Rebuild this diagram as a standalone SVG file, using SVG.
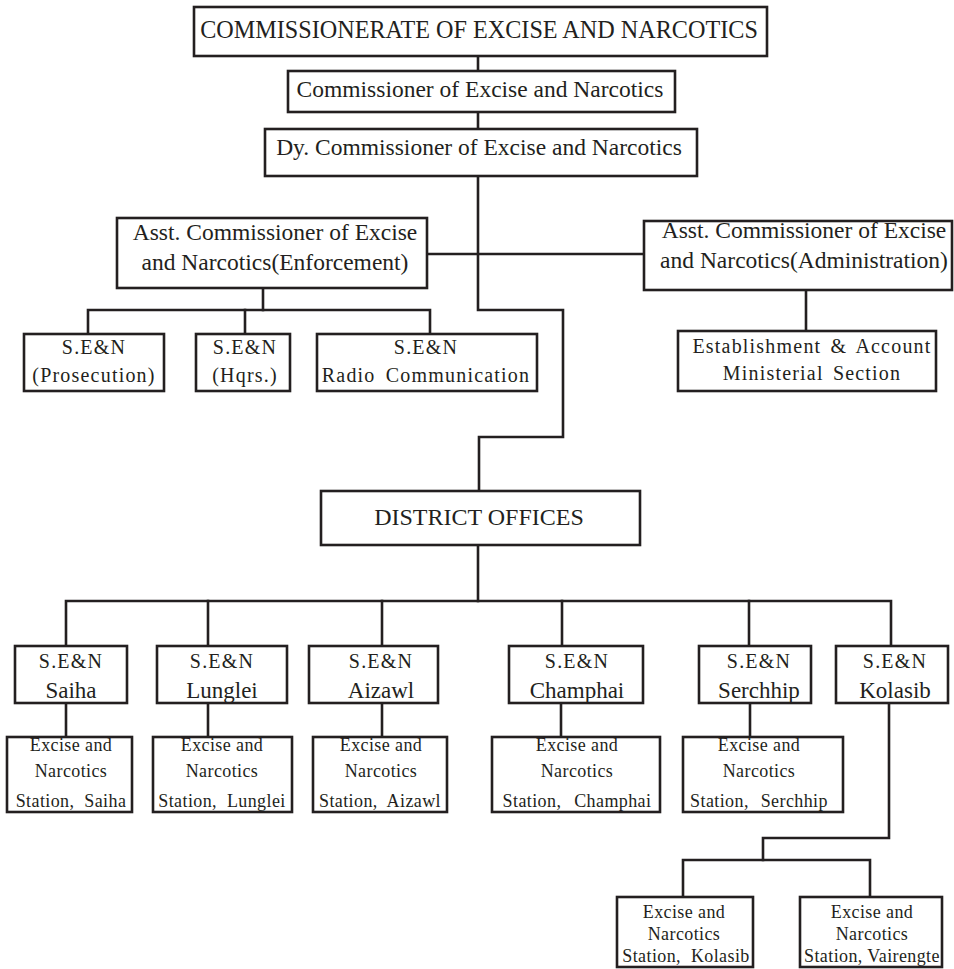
<svg xmlns="http://www.w3.org/2000/svg" width="954" height="969" viewBox="0 0 954 969" font-family="'Liberation Serif', 'Times New Roman', 'DejaVu Serif', serif">
<style>
  .box { fill: #ffffff; stroke: #231f20; stroke-width: 2.6; }
  .ln { fill: none; stroke: #231f20; stroke-width: 2.6; stroke-linejoin: miter; stroke-linecap: square; }
  text { font-family: 'Liberation Serif', 'Times New Roman', 'DejaVu Serif', serif; fill: #231f20; text-anchor: middle; }
  .t1 { font-size: 23.5px; }
  .t2 { font-size: 20px; letter-spacing: 1.2px; }
  .t3 { font-size: 23px; }
  .t4 { font-size: 18px; letter-spacing: 0.4px; }
  .st { word-spacing: 5px; }
</style>
<rect width="954" height="969" fill="#ffffff"/>

<g id="connectors">
  <path class="ln" d="M478 56 V71"/>
  <path class="ln" d="M478 112 V129"/>
  <path class="ln" d="M478 176 V310 H563 V437 H479 V491"/>
  <path class="ln" d="M427 254 H644"/>
  <path class="ln" d="M263 288 V310"/>
  <path class="ln" d="M88 334 V310 H430 V334"/>
  <path class="ln" d="M245 310 V334"/>
  <path class="ln" d="M806 290 V331"/>
  <path class="ln" d="M478 545 V601"/>
  <path class="ln" d="M66 646 V601 H891 V646"/>
  <path class="ln" d="M208 601 V646"/>
  <path class="ln" d="M382 601 V646"/>
  <path class="ln" d="M562 601 V646"/>
  <path class="ln" d="M749 601 V646"/>
  <path class="ln" d="M66 703 V737"/>
  <path class="ln" d="M208 703 V737"/>
  <path class="ln" d="M382 703 V737"/>
  <path class="ln" d="M561 703 V737"/>
  <path class="ln" d="M750 703 V737"/>
  <path class="ln" d="M889 703 V838 H763 V860"/>
  <path class="ln" d="M683 897 V860 H870 V897"/>
</g>

<g id="commissionerate">
  <rect class="box" x="194" y="7" width="573" height="49"/>
  <text x="479" y="38" style="font-size:24.2px">COMMISSIONERATE OF EXCISE AND NARCOTICS</text>
</g>
<g id="commissioner">
  <rect class="box" x="288" y="71" width="387" height="41"/>
  <text class="t1" x="480" y="97">Commissioner of Excise and Narcotics</text>
</g>
<g id="dy-commissioner">
  <rect class="box" x="265" y="129" width="432" height="47"/>
  <text class="t1" x="479" y="155">Dy. Commissioner of Excise and Narcotics</text>
</g>

<g id="asst-enforcement">
  <rect class="box" x="117" y="218" width="310" height="70"/>
  <text class="t1" x="275" y="240">Asst. Commissioner of Excise</text>
  <text class="t1" x="275" y="270">and Narcotics(Enforcement)</text>
</g>
<g id="asst-administration">
  <rect class="box" x="644" y="221" width="308" height="69"/>
  <text class="t1" x="804" y="238">Asst. Commissioner of Excise</text>
  <text class="t1" x="804" y="268">and Narcotics(Administration)</text>
</g>

<g id="sen-prosecution">
  <rect class="box" x="24" y="334" width="140" height="57"/>
  <text class="t2" x="94" y="354">S.E&amp;N</text>
  <text class="t2" x="94" y="382">(Prosecution)</text>
</g>
<g id="sen-hqrs">
  <rect class="box" x="196" y="334" width="94" height="57"/>
  <text class="t2" x="245" y="354">S.E&amp;N</text>
  <text class="t2" x="245" y="382">(Hqrs.)</text>
</g>
<g id="sen-radio">
  <rect class="box" x="317" y="334" width="220" height="57"/>
  <text class="t2" x="426" y="354">S.E&amp;N</text>
  <text class="t2" x="426" y="382" style="word-spacing:4px">Radio Communication</text>
</g>
<g id="establishment">
  <rect class="box" x="678" y="331" width="258" height="60"/>
  <text class="t2" x="812" y="353" style="word-spacing:3px">Establishment &amp; Account</text>
  <text class="t2" x="812" y="380" style="word-spacing:3px">Ministerial Section</text>
</g>

<g id="district-offices">
  <rect class="box" x="321" y="491" width="319" height="54"/>
  <text x="479" y="525" style="font-size:24px">DISTRICT OFFICES</text>
</g>

<g id="sen-saiha">
  <rect class="box" x="15" y="646" width="112" height="57"/>
  <text class="t2" x="71" y="668">S.E&amp;N</text>
  <text class="t3" x="71" y="698">Saiha</text>
</g>
<g id="sen-lunglei">
  <rect class="box" x="157" y="646" width="130" height="57"/>
  <text class="t2" x="222" y="668">S.E&amp;N</text>
  <text class="t3" x="222" y="698">Lunglei</text>
</g>
<g id="sen-aizawl">
  <rect class="box" x="309" y="646" width="129" height="57"/>
  <text class="t2" x="381" y="668">S.E&amp;N</text>
  <text class="t3" x="381" y="698">Aizawl</text>
</g>
<g id="sen-champhai">
  <rect class="box" x="509" y="646" width="134" height="57"/>
  <text class="t2" x="577" y="668">S.E&amp;N</text>
  <text class="t3" x="577" y="698">Champhai</text>
</g>
<g id="sen-serchhip">
  <rect class="box" x="699" y="646" width="112" height="57"/>
  <text class="t2" x="759" y="668">S.E&amp;N</text>
  <text class="t3" x="759" y="698">Serchhip</text>
</g>
<g id="sen-kolasib">
  <rect class="box" x="836" y="646" width="112" height="57"/>
  <text class="t2" x="895" y="668">S.E&amp;N</text>
  <text class="t3" x="895" y="698">Kolasib</text>
</g>

<g id="station-saiha">
  <rect class="box" x="7" y="737" width="125" height="75"/>
  <text class="t4" x="71" y="751">Excise and</text>
  <text class="t4" x="71" y="777">Narcotics</text>
  <text class="t4 st" x="71" y="807">Station, Saiha</text>
</g>
<g id="station-lunglei">
  <rect class="box" x="153" y="737" width="139" height="75"/>
  <text class="t4" x="222" y="751">Excise and</text>
  <text class="t4" x="222" y="777">Narcotics</text>
  <text class="t4 st" x="222" y="807">Station, Lunglei</text>
</g>
<g id="station-aizawl">
  <rect class="box" x="313" y="737" width="134" height="75"/>
  <text class="t4" x="381" y="751">Excise and</text>
  <text class="t4" x="381" y="777">Narcotics</text>
  <text class="t4 st" x="380" y="807">Station, Aizawl</text>
</g>
<g id="station-champhai">
  <rect class="box" x="492" y="737" width="168" height="75"/>
  <text class="t4" x="577" y="751">Excise and</text>
  <text class="t4" x="577" y="777">Narcotics</text>
  <text class="t4" x="577" y="807" style="word-spacing:8px">Station, Champhai</text>
</g>
<g id="station-serchhip">
  <rect class="box" x="683" y="737" width="160" height="75"/>
  <text class="t4" x="759" y="751">Excise and</text>
  <text class="t4" x="759" y="777">Narcotics</text>
  <text class="t4" x="759" y="807" style="word-spacing:7px">Station, Serchhip</text>
</g>
<g id="station-kolasib">
  <rect class="box" x="617" y="897" width="136" height="70"/>
  <text class="t4" x="684" y="918">Excise and</text>
  <text class="t4" x="684" y="940">Narcotics</text>
  <text class="t4 st" x="686" y="962">Station, Kolasib</text>
</g>
<g id="station-vairengte">
  <rect class="box" x="800" y="897" width="142" height="70"/>
  <text class="t4" x="872" y="918">Excise and</text>
  <text class="t4" x="872" y="940">Narcotics</text>
  <text class="t4" x="872" y="962">Station, Vairengte</text>
</g>
</svg>
